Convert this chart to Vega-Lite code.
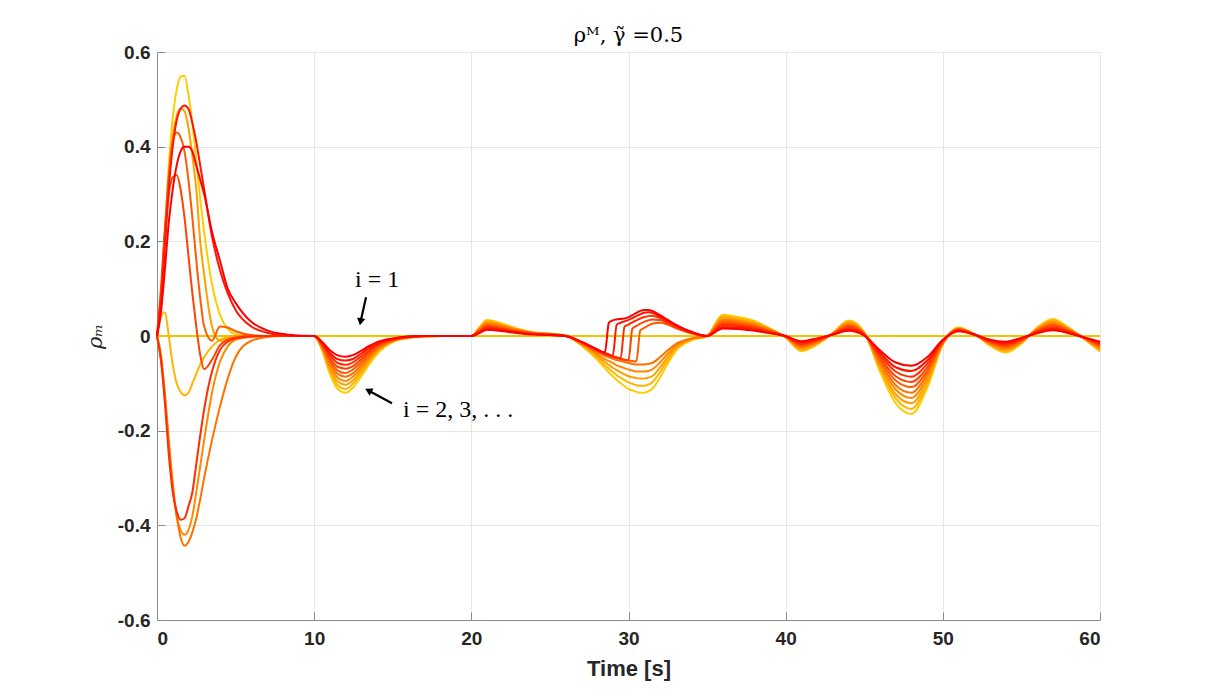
{
  "$schema": "https://vega.github.io/schema/vega-lite/v6.json",
  "width": 943,
  "height": 568,
  "autosize": {"type": "none"},
  "padding": {"left": 157, "top": 52, "right": 115, "bottom": 77},
  "background": "white",
  "config": {
    "view": {"stroke": null},
    "axis": {
      "grid": true,
      "gridColor": "#e6e6e6",
      "domainColor": "#8c8c8c",
      "tickColor": "#8c8c8c",
      "tickSize": -8,
      "labelFont": "Liberation Sans",
      "labelFontWeight": "bold",
      "labelFontSize": 19,
      "labelColor": "#262626",
      "titleFont": "Liberation Sans",
      "titleFontWeight": "bold",
      "titleFontSize": 22,
      "titleColor": "#262626"
    }
  },
  "title": {
    "text": "ρᴹ, γ̃ =0.5",
    "font": "DejaVu Serif",
    "fontSize": 21,
    "fontWeight": "normal",
    "color": "#000000",
    "offset": -3
  },
  "encoding": {
    "x": {
      "field": "t",
      "type": "quantitative",
      "scale": {"domain": [0, 60], "nice": false, "zero": false},
      "axis": {"values": [0, 10, 20, 30, 40, 50, 60], "title": "Time [s]", "labelPadding": 17, "titlePadding": 10}
    },
    "y": {
      "field": "v",
      "type": "quantitative",
      "scale": {"domain": [-0.6, 0.6], "nice": false},
      "axis": {
        "values": [-0.6, -0.4, -0.2, 0, 0.2, 0.4, 0.6],
        "labelExpr": "abs(datum.value) < 1e-9 ? '0' : (datum.value < 0 ? '-' : '') + format(abs(datum.value), '.1f')",
        "labelPadding": 15,
        "title": "ρₘ",
        "titleFont": "DejaVu Serif",
        "titleFontStyle": "italic",
        "titleFontWeight": "normal",
        "titleFontSize": 21,
        "titlePadding": 12
      }
    }
  },
  "layer": [
    {
      "data": {"values": [{"t": 0, "v": 0}, {"t": 60, "v": 0}]},
      "mark": {"type": "line", "color": "#f0c400", "strokeWidth": 2}
    },
    {
      "data": {
        "values": [
          {"t": 0, "a": 0, "b": 0, "c": 0, "d": 0, "e": 0, "f": 0, "g": 0, "h": 0, "i": 0, "j": 0},
          {"t": 0.25, "a": 0.08, "b": 0.04, "c": 0.07, "d": -0.05, "e": -0.04, "f": 0.08, "g": 0.1, "h": -0.05, "i": 0.07, "j": 0.05},
          {"t": 0.5, "a": 0.22, "b": 0.05, "c": 0.2, "d": -0.13, "e": -0.12, "f": 0.22, "g": 0.22, "h": -0.14, "i": 0.19, "j": 0.14},
          {"t": 0.75, "a": 0.36, "b": 0, "c": 0.33, "d": -0.23, "e": -0.22, "f": 0.34, "g": 0.3, "h": -0.25, "i": 0.31, "j": 0.24},
          {"t": 1, "a": 0.46, "b": -0.06, "c": 0.42, "d": -0.32, "e": -0.31, "f": 0.41, "g": 0.335, "h": -0.33, "i": 0.4, "j": 0.31},
          {"t": 1.25, "a": 0.52, "b": -0.1, "c": 0.465, "d": -0.38, "e": -0.38, "f": 0.43, "g": 0.34, "h": -0.37, "i": 0.455, "j": 0.36},
          {"t": 1.5, "a": 0.548, "b": -0.118, "c": 0.48, "d": -0.41, "e": -0.425, "f": 0.42, "g": 0.31, "h": -0.388, "i": 0.48, "j": 0.39},
          {"t": 1.75, "a": 0.55, "b": -0.125, "c": 0.475, "d": -0.42, "e": -0.443, "f": 0.39, "g": 0.25, "h": -0.385, "i": 0.487, "j": 0.4},
          {"t": 2, "a": 0.51, "b": -0.12, "c": 0.44, "d": -0.41, "e": -0.435, "f": 0.33, "g": 0.17, "h": -0.36, "i": 0.48, "j": 0.4},
          {"t": 2.25, "a": 0.45, "b": -0.1, "c": 0.38, "d": -0.38, "e": -0.415, "f": 0.25, "g": 0.09, "h": -0.33, "i": 0.45, "j": 0.39},
          {"t": 2.5, "a": 0.37, "b": -0.08, "c": 0.31, "d": -0.33, "e": -0.385, "f": 0.16, "g": 0.02, "h": -0.27, "i": 0.41, "j": 0.36},
          {"t": 2.75, "a": 0.29, "b": -0.06, "c": 0.2, "d": -0.275, "e": -0.345, "f": 0.08, "g": -0.04, "h": -0.21, "i": 0.36, "j": 0.33},
          {"t": 3, "a": 0.22, "b": -0.045, "c": 0.13, "d": -0.22, "e": -0.3, "f": 0.02, "g": -0.07, "h": -0.155, "i": 0.31, "j": 0.3},
          {"t": 3.5, "a": 0.11, "b": -0.022, "c": 0.02, "d": -0.12, "e": -0.22, "f": -0.01, "g": -0.05, "h": -0.075, "i": 0.21, "j": 0.22},
          {"t": 4, "a": 0.045, "b": -0.008, "c": -0.01, "d": -0.055, "e": -0.15, "f": 0.02, "g": -0.02, "h": -0.03, "i": 0.14, "j": 0.16},
          {"t": 4.5, "a": 0.015, "b": -0.002, "c": -0.005, "d": -0.022, "e": -0.09, "f": 0.018, "g": -0.008, "h": -0.012, "i": 0.09, "j": 0.1},
          {"t": 5, "a": 0.004, "b": 0, "c": 0, "d": -0.008, "e": -0.045, "f": 0.01, "g": -0.003, "h": -0.005, "i": 0.055, "j": 0.07},
          {"t": 6, "a": 0, "b": 0, "c": 0, "d": -0.002, "e": -0.01, "f": 0.002, "g": 0, "h": -0.001, "i": 0.02, "j": 0.03},
          {"t": 7, "a": 0, "b": 0, "c": 0, "d": 0, "e": -0.002, "f": 0, "g": 0, "h": 0, "i": 0.007, "j": 0.012},
          {"t": 8, "a": 0, "b": 0, "c": 0, "d": 0, "e": 0, "f": 0, "g": 0, "h": 0, "i": 0.002, "j": 0.004},
          {"t": 9, "a": 0, "b": 0, "c": 0, "d": 0, "e": 0, "f": 0, "g": 0, "h": 0, "i": 0, "j": 0.001},
          {"t": 10, "a": 0, "b": 0, "c": 0, "d": 0, "e": 0, "f": 0, "g": 0, "h": 0, "i": 0, "j": 0},
          {"t": 10.5, "a": -0.03, "b": -0.028, "c": -0.026, "d": -0.024, "e": -0.022, "f": -0.02, "g": -0.018, "h": -0.016, "i": -0.014, "j": -0.012},
          {"t": 11, "a": -0.08, "b": -0.074, "c": -0.069, "d": -0.063, "e": -0.058, "f": -0.052, "g": -0.047, "h": -0.041, "i": -0.036, "j": -0.03},
          {"t": 11.5, "a": -0.112, "b": -0.104, "c": -0.096, "d": -0.088, "e": -0.08, "f": -0.073, "g": -0.065, "h": -0.057, "i": -0.049, "j": -0.041},
          {"t": 12, "a": -0.12, "b": -0.112, "c": -0.103, "d": -0.095, "e": -0.086, "f": -0.078, "g": -0.069, "h": -0.061, "i": -0.052, "j": -0.044},
          {"t": 12.5, "a": -0.108, "b": -0.1, "c": -0.093, "d": -0.085, "e": -0.078, "f": -0.07, "g": -0.063, "h": -0.055, "i": -0.048, "j": -0.04},
          {"t": 13, "a": -0.085, "b": -0.079, "c": -0.073, "d": -0.067, "e": -0.061, "f": -0.055, "g": -0.049, "h": -0.043, "i": -0.037, "j": -0.031},
          {"t": 13.5, "a": -0.06, "b": -0.056, "c": -0.051, "d": -0.047, "e": -0.043, "f": -0.038, "g": -0.034, "h": -0.03, "i": -0.025, "j": -0.021},
          {"t": 14, "a": -0.038, "b": -0.035, "c": -0.032, "d": -0.03, "e": -0.027, "f": -0.024, "g": -0.021, "h": -0.018, "i": -0.016, "j": -0.013},
          {"t": 15, "a": -0.013, "b": -0.012, "c": -0.011, "d": -0.01, "e": -0.009, "f": -0.009, "g": -0.008, "h": -0.007, "i": -0.006, "j": -0.005},
          {"t": 16, "a": -0.004, "b": -0.004, "c": -0.003, "d": -0.003, "e": -0.003, "f": -0.002, "g": -0.002, "h": -0.002, "i": -0.001, "j": -0.001},
          {"t": 17, "a": -0.001, "b": -0.001, "c": -0.001, "d": -0.001, "e": 0, "f": 0, "g": 0, "h": 0, "i": 0, "j": 0},
          {"t": 18, "a": 0, "b": 0, "c": 0, "d": 0, "e": 0, "f": 0, "g": 0, "h": 0, "i": 0, "j": 0},
          {"t": 20, "a": 0, "b": 0, "c": 0, "d": 0, "e": 0, "f": 0, "g": 0, "h": 0, "i": 0, "j": 0},
          {"t": 20.5, "a": 0.018, "b": 0.017, "c": 0.015, "d": 0.014, "e": 0.013, "f": 0.011, "g": 0.01, "h": 0.009, "i": 0.007, "j": 0.006},
          {"t": 21, "a": 0.034, "b": 0.032, "c": 0.029, "d": 0.027, "e": 0.025, "f": 0.022, "g": 0.02, "h": 0.018, "i": 0.015, "j": 0.013},
          {"t": 22, "a": 0.026, "b": 0.024, "c": 0.022, "d": 0.021, "e": 0.019, "f": 0.017, "g": 0.015, "h": 0.013, "i": 0.012, "j": 0.01},
          {"t": 23, "a": 0.015, "b": 0.014, "c": 0.013, "d": 0.012, "e": 0.011, "f": 0.01, "g": 0.009, "h": 0.008, "i": 0.007, "j": 0.006},
          {"t": 24, "a": 0.008, "b": 0.007, "c": 0.007, "d": 0.006, "e": 0.006, "f": 0.005, "g": 0.005, "h": 0.004, "i": 0.004, "j": 0.003},
          {"t": 25, "a": 0.005, "b": 0.005, "c": 0.004, "d": 0.004, "e": 0.004, "f": 0.003, "g": 0.003, "h": 0.003, "i": 0.002, "j": 0.002},
          {"t": 26, "a": 0.001, "b": 0.001, "c": 0.001, "d": 0.001, "e": 0, "f": 0, "g": 0, "h": 0, "i": 0, "j": 0},
          {"t": 27, "a": -0.02, "b": -0.019, "c": -0.018, "d": -0.016, "e": -0.015, "f": -0.014, "g": -0.014, "h": -0.013, "i": -0.013, "j": -0.012},
          {"t": 28, "a": -0.05, "b": -0.046, "c": -0.042, "d": -0.038, "e": -0.034, "f": -0.032, "g": -0.031, "h": -0.03, "i": -0.029, "j": -0.028},
          {"t": 28.5, "a": -0.068, "b": -0.062, "c": -0.055, "d": -0.049, "e": -0.042, "f": -0.039, "g": -0.038, "h": -0.037, "i": -0.036, "j": -0.035},
          {"t": 28.75, "a": -0.077, "b": -0.069, "c": -0.061, "d": -0.053, "e": -0.045, "f": -0.042, "g": -0.041, "h": -0.04, "i": -0.039, "j": 0.028},
          {"t": 29, "a": -0.085, "b": -0.076, "c": -0.067, "d": -0.057, "e": -0.048, "f": -0.045, "g": -0.044, "h": -0.043, "i": -0.042, "j": 0.033},
          {"t": 29.25, "a": -0.093, "b": -0.083, "c": -0.072, "d": -0.062, "e": -0.051, "f": -0.047, "g": -0.046, "h": -0.045, "i": 0.024, "j": 0.035},
          {"t": 29.5, "a": -0.1, "b": -0.088, "c": -0.077, "d": -0.065, "e": -0.053, "f": -0.049, "g": -0.048, "h": -0.047, "i": 0.028, "j": 0.036},
          {"t": 29.75, "a": -0.106, "b": -0.093, "c": -0.081, "d": -0.068, "e": -0.055, "f": -0.051, "g": -0.05, "h": 0.02, "i": 0.031, "j": 0.037},
          {"t": 30, "a": -0.112, "b": -0.098, "c": -0.085, "d": -0.071, "e": -0.057, "f": -0.052, "g": -0.051, "h": 0.024, "i": 0.034, "j": 0.04},
          {"t": 30.25, "a": -0.115, "b": -0.101, "c": -0.087, "d": -0.073, "e": -0.059, "f": -0.053, "g": 0.016, "h": 0.029, "i": 0.038, "j": 0.044},
          {"t": 30.5, "a": -0.118, "b": -0.104, "c": -0.089, "d": -0.075, "e": -0.06, "f": -0.054, "g": 0.021, "h": 0.033, "i": 0.042, "j": 0.049},
          {"t": 30.75, "a": -0.12, "b": -0.105, "c": -0.09, "d": -0.075, "e": -0.06, "f": 0.012, "g": 0.026, "h": 0.037, "i": 0.046, "j": 0.053},
          {"t": 31, "a": -0.12, "b": -0.105, "c": -0.09, "d": -0.075, "e": -0.06, "f": 0.017, "g": 0.03, "h": 0.04, "i": 0.049, "j": 0.055},
          {"t": 31.25, "a": -0.117, "b": -0.103, "c": -0.088, "d": -0.074, "e": -0.059, "f": 0.022, "g": 0.033, "h": 0.042, "i": 0.05, "j": 0.055},
          {"t": 31.5, "a": -0.112, "b": -0.098, "c": -0.085, "d": -0.071, "e": -0.057, "f": 0.026, "g": 0.035, "h": 0.043, "i": 0.049, "j": 0.053},
          {"t": 32, "a": -0.088, "b": -0.077, "c": -0.067, "d": -0.056, "e": -0.045, "f": 0.028, "g": 0.034, "h": 0.038, "i": 0.041, "j": 0.044},
          {"t": 32.5, "a": -0.058, "b": -0.051, "c": -0.044, "d": -0.037, "e": -0.03, "f": 0.024, "g": 0.027, "h": 0.03, "i": 0.032, "j": 0.034},
          {"t": 33, "a": -0.032, "b": -0.028, "c": -0.025, "d": -0.021, "e": -0.017, "f": 0.017, "g": 0.019, "h": 0.021, "i": 0.022, "j": 0.024},
          {"t": 34, "a": -0.009, "b": -0.008, "c": -0.007, "d": -0.006, "e": -0.005, "f": 0.006, "g": 0.006, "h": 0.007, "i": 0.008, "j": 0.009},
          {"t": 35, "a": 0, "b": 0, "c": 0, "d": 0, "e": 0, "f": 0, "g": 0, "h": 0, "i": 0, "j": 0},
          {"t": 36, "a": 0.045, "b": 0.042, "c": 0.039, "d": 0.035, "e": 0.032, "f": 0.029, "g": 0.026, "h": 0.023, "i": 0.019, "j": 0.016},
          {"t": 37, "a": 0.04, "b": 0.037, "c": 0.034, "d": 0.032, "e": 0.029, "f": 0.026, "g": 0.023, "h": 0.021, "i": 0.018, "j": 0.015},
          {"t": 38, "a": 0.032, "b": 0.03, "c": 0.027, "d": 0.025, "e": 0.023, "f": 0.02, "g": 0.018, "h": 0.016, "i": 0.013, "j": 0.011},
          {"t": 39, "a": 0.016, "b": 0.015, "c": 0.014, "d": 0.013, "e": 0.012, "f": 0.01, "g": 0.009, "h": 0.008, "i": 0.007, "j": 0.006},
          {"t": 40, "a": -0.003, "b": -0.003, "c": -0.002, "d": -0.002, "e": -0.001, "f": -0.001, "g": -0.001, "h": -0.001, "i": 0, "j": 0},
          {"t": 41, "a": -0.032, "b": -0.03, "c": -0.027, "d": -0.025, "e": -0.023, "f": -0.02, "g": -0.018, "h": -0.016, "i": -0.013, "j": -0.011},
          {"t": 42, "a": -0.018, "b": -0.017, "c": -0.015, "d": -0.014, "e": -0.012, "f": -0.011, "g": -0.009, "h": -0.008, "i": -0.006, "j": -0.005},
          {"t": 43, "a": 0.006, "b": 0.006, "c": 0.005, "d": 0.005, "e": 0.005, "f": 0.004, "g": 0.004, "h": 0.004, "i": 0.003, "j": 0.003},
          {"t": 44, "a": 0.033, "b": 0.031, "c": 0.028, "d": 0.026, "e": 0.023, "f": 0.021, "g": 0.019, "h": 0.016, "i": 0.013, "j": 0.011},
          {"t": 45, "a": 0.008, "b": 0.007, "c": 0.006, "d": 0.006, "e": 0.005, "f": 0.004, "g": 0.003, "h": 0.003, "i": 0.002, "j": 0.001},
          {"t": 46, "a": -0.075, "b": -0.07, "c": -0.065, "d": -0.06, "e": -0.055, "f": -0.05, "g": -0.045, "h": -0.04, "i": -0.035, "j": -0.03},
          {"t": 47, "a": -0.142, "b": -0.132, "c": -0.123, "d": -0.113, "e": -0.104, "f": -0.094, "g": -0.085, "h": -0.075, "i": -0.066, "j": -0.056},
          {"t": 48, "a": -0.165, "b": -0.154, "c": -0.142, "d": -0.131, "e": -0.12, "f": -0.108, "g": -0.097, "h": -0.086, "i": -0.074, "j": -0.063},
          {"t": 49, "a": -0.11, "b": -0.103, "c": -0.096, "d": -0.088, "e": -0.081, "f": -0.074, "g": -0.067, "h": -0.059, "i": -0.052, "j": -0.045},
          {"t": 50, "a": -0.018, "b": -0.017, "c": -0.016, "d": -0.015, "e": -0.014, "f": -0.012, "g": -0.011, "h": -0.01, "i": -0.009, "j": -0.008},
          {"t": 51, "a": 0.018, "b": 0.017, "c": 0.016, "d": 0.015, "e": 0.014, "f": 0.014, "g": 0.013, "h": 0.012, "i": 0.011, "j": 0.01},
          {"t": 52, "a": 0.004, "b": 0.004, "c": 0.004, "d": 0.004, "e": 0.004, "f": 0.003, "g": 0.003, "h": 0.003, "i": 0.003, "j": 0.003},
          {"t": 53, "a": -0.02, "b": -0.019, "c": -0.017, "d": -0.016, "e": -0.015, "f": -0.013, "g": -0.012, "h": -0.011, "i": -0.009, "j": -0.008},
          {"t": 54, "a": -0.035, "b": -0.032, "c": -0.03, "d": -0.027, "e": -0.025, "f": -0.022, "g": -0.02, "h": -0.017, "i": -0.015, "j": -0.012},
          {"t": 55, "a": -0.016, "b": -0.015, "c": -0.013, "d": -0.012, "e": -0.011, "f": -0.009, "g": -0.008, "h": -0.007, "i": -0.005, "j": -0.004},
          {"t": 56, "a": 0.018, "b": 0.017, "c": 0.015, "d": 0.014, "e": 0.013, "f": 0.011, "g": 0.01, "h": 0.009, "i": 0.007, "j": 0.006},
          {"t": 57, "a": 0.036, "b": 0.033, "c": 0.031, "d": 0.028, "e": 0.025, "f": 0.023, "g": 0.02, "h": 0.017, "i": 0.015, "j": 0.012},
          {"t": 58, "a": 0.018, "b": 0.017, "c": 0.015, "d": 0.014, "e": 0.013, "f": 0.011, "g": 0.01, "h": 0.009, "i": 0.007, "j": 0.006},
          {"t": 59, "a": -0.006, "b": -0.006, "c": -0.005, "d": -0.005, "e": -0.005, "f": -0.004, "g": -0.004, "h": -0.004, "i": -0.003, "j": -0.003},
          {"t": 60, "a": -0.033, "b": -0.031, "c": -0.028, "d": -0.026, "e": -0.024, "f": -0.021, "g": -0.019, "h": -0.017, "i": -0.014, "j": -0.012}
        ]
      },
      "transform": [
        {"fold": ["a", "b", "c", "d", "e", "f", "g", "h", "i", "j"], "as": ["s", "v"]}
      ],
      "mark": {"type": "line", "interpolate": "monotone", "strokeWidth": 2},
      "encoding": {
        "color": {
          "field": "s",
          "type": "nominal",
          "scale": {
            "domain": ["a", "b", "c", "d", "e", "f", "g", "h", "i", "j"],
            "range": ["#ffcc00", "#ffb600", "#ff9f00", "#ff8900", "#ff7200", "#ff5a00", "#ff4300", "#ff2d00", "#ff1600", "#ff0000"]
          },
          "legend": null
        },
        "strokeWidth": {"condition": {"test": "datum.s == 'j'", "value": 2.8}, "value": 2}
      }
    },
    {
      "data": {
        "values": [
          {"t": 13.3, "v": 0.082, "t2": 12.95, "v2": 0.03},
          {"t": 14.95, "v": -0.142, "t2": 13.45, "v2": -0.115}
        ]
      },
      "mark": {"type": "rule", "color": "#000000", "strokeWidth": 2.2},
      "encoding": {
        "x2": {"field": "t2"},
        "y2": {"field": "v2"}
      }
    },
    {
      "data": {"values": [{"t": 12.95, "v": 0.03}]},
      "mark": {"type": "point", "shape": "triangle-up", "filled": true, "color": "#000000", "size": 70, "angle": 191, "opacity": 1}
    },
    {
      "data": {"values": [{"t": 13.45, "v": -0.115}]},
      "mark": {"type": "point", "shape": "triangle-up", "filled": true, "color": "#000000", "size": 70, "angle": 298, "opacity": 1}
    },
    {
      "data": {
        "values": [
          {"t": 12.6, "v": 0.118, "label": "i = 1"},
          {"t": 15.65, "v": -0.156, "label": "i = 2, 3, . . ."}
        ]
      },
      "mark": {"type": "text", "align": "left", "baseline": "middle", "font": "Liberation Serif", "fontSize": 24, "color": "#000000"},
      "encoding": {
        "text": {"field": "label"}
      }
    }
  ]
}
